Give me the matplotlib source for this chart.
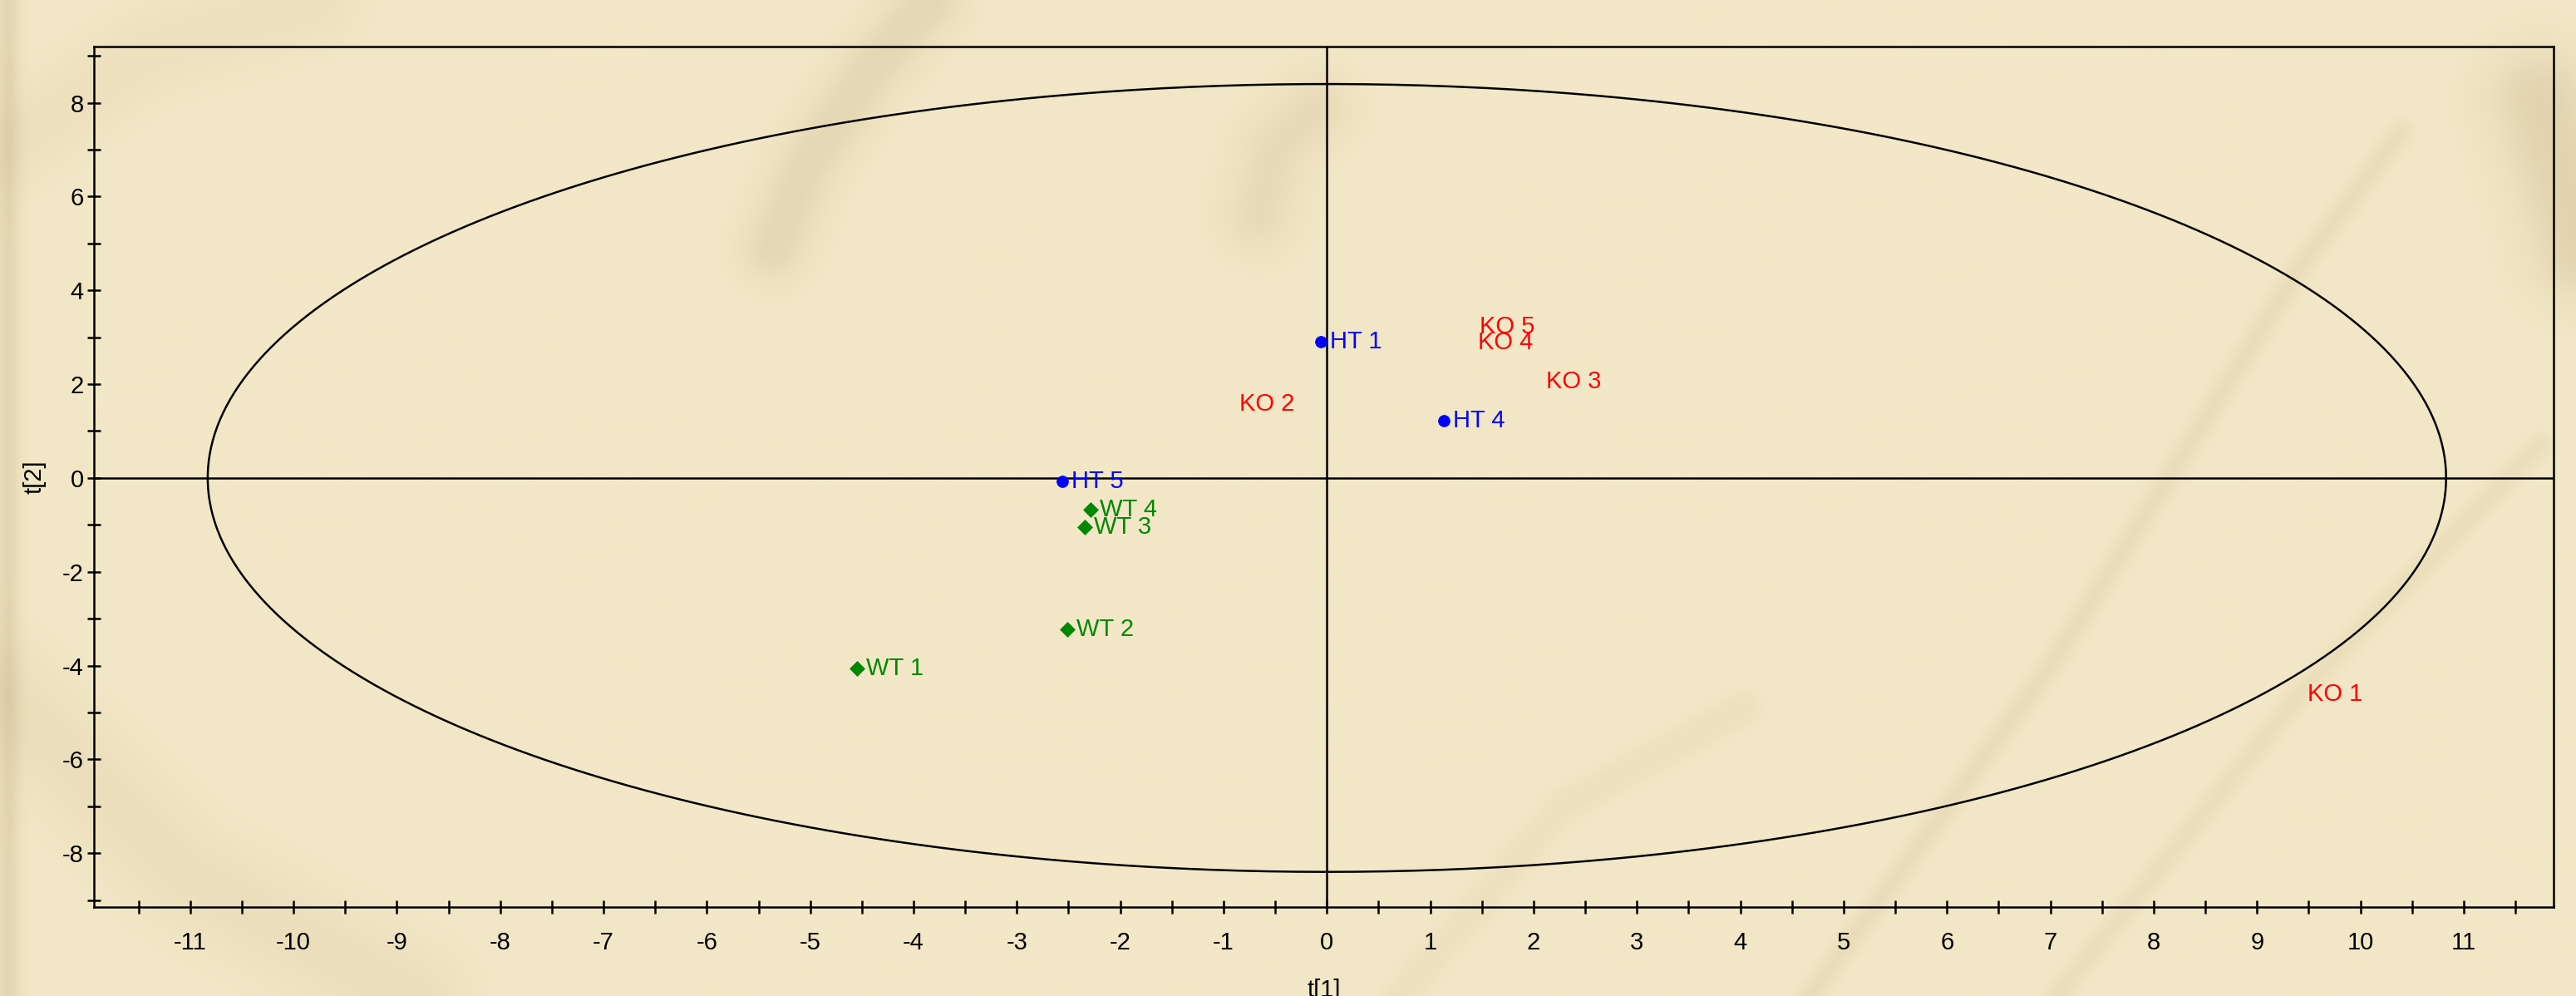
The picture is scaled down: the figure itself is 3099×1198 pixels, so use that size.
import numpy as np
import matplotlib
matplotlib.use("Agg")
import matplotlib.pyplot as plt
from matplotlib.ticker import MultipleLocator, FixedLocator

plt.rcParams['font.family'] = ['Liberation Sans', 'DejaVu Sans']

# PCA scores (t[1], t[2]) per group
ht_labels = ["HT 1", "HT 4", "HT 5"]
ht_t1 = [-0.06, 1.13, -2.56]
ht_t2 = [2.91, 1.23, -0.07]

wt_labels = ["WT 1", "WT 2", "WT 3", "WT 4"]
wt_t1 = [-4.55, -2.51, -2.34, -2.29]
wt_t2 = [-4.07, -3.23, -1.05, -0.67]

ko_labels = ["KO 1", "KO 2", "KO 3", "KO 4", "KO 5"]
ko_t1 = [9.40, -0.94, 2.03, 1.37, 1.39]
ko_t2 = [-4.62, 1.58, 2.06, 2.88, 3.23]

# Hotelling's T2 (95%) ellipse semi-axes
ellipse_a = 10.83
ellipse_b = 8.40

x_ticks = list(range(-11, 12))
y_ticks = [-8, -6, -4, -2, 0, 2, 4, 6, 8]

bg = "#F2E7C6"
fig = plt.figure(figsize=(30.99, 11.98), dpi=100, facecolor=bg)


# --- soft parchment backdrop with faint darker swirls ---
def parchment(w=775, h=300):
    yy, xx = np.mgrid[0:h, 0:w].astype(float)
    # work in a 1568 x 606 reference frame
    X = xx * 1568.0 / w
    Y = yy * 606.0 / h
    dark = np.zeros_like(X)

    def stroke(pts, width, strength):
        pts = np.asarray(pts, float)
        d = np.full_like(X, 1e9)
        for (x0, y0), (x1, y1) in zip(pts[:-1], pts[1:]):
            vx, vy = x1 - x0, y1 - y0
            t = ((X - x0) * vx + (Y - y0) * vy) / (vx * vx + vy * vy)
            t = np.clip(t, 0, 1)
            dd = np.hypot(X - (x0 + t * vx), Y - (y0 + t * vy))
            d = np.minimum(d, dd)
        return strength * np.exp(-0.5 * (d / width) ** 2)

    dark += stroke([(470, 150), (490, 100), (530, 40), (565, 0)], 14, 0.45)
    dark += stroke([(765, 130), (775, 90), (800, 65)], 16, 0.35)
    dark += stroke([(1545, 60), (1560, 110), (1570, 150)], 22, 0.55)
    dark += stroke([(1100, 606), (1250, 400), (1400, 160), (1460, 80)], 5, 0.3)
    dark += stroke([(1250, 606), (1400, 420), (1545, 270)], 5, 0.25)
    dark += stroke([(850, 606), (950, 490), (1060, 430)], 7, 0.2)
    dark += stroke([(0, 420), (110, 530), (250, 606)], 22, 0.25)
    dark += stroke([(4, 0), (4, 606)], 5, 0.5)
    dark += stroke([(0, 90), (90, 30), (190, 0)], 18, 0.2)
    dark = np.clip(dark, 0, 1)

    base = np.array([242, 231, 198]) / 255.0
    deep = np.array([212, 196, 156]) / 255.0
    return base + (deep - base) * dark[..., None]


bax = fig.add_axes([0, 0, 1, 1], zorder=-1)
bax.imshow(parchment(), extent=[0, 1, 0, 1], aspect="auto",
           interpolation="bilinear", origin="upper")
bax.axis("off")

ax = fig.add_axes([0.0365, 0.0893, 0.9548, 0.864])
ax.set_facecolor("none")

ax.set_xlim(-11.93, 11.87)
ax.set_ylim(-9.15, 9.2)

# zero lines
ax.axhline(0, color="black", lw=1.8, zorder=1)
ax.axvline(0, color="black", lw=1.8, zorder=1)

# T2 ellipse
theta = np.linspace(0, 2 * np.pi, 721)
ax.plot(ellipse_a * np.cos(theta), ellipse_b * np.sin(theta),
        color="black", lw=1.8, zorder=2)

offset = dict(textcoords="offset points", xytext=(8, 0), va="center",
              ha="left", fontsize=21)

ax.plot(ht_t1, ht_t2, "o", color="#0000FF", ms=10, mew=0.5, zorder=3)
for lab, x, y in zip(ht_labels, ht_t1, ht_t2):
    ax.annotate(lab, (x, y), color="#0000FF", **offset)

ax.plot(wt_t1, wt_t2, "D", color="#008800", ms=9.5, mew=0.5, zorder=3)
for lab, x, y in zip(wt_labels, wt_t1, wt_t2):
    ax.annotate(lab, (x, y), color="#008800", **offset)

for lab, x, y in zip(ko_labels, ko_t1, ko_t2):
    ax.annotate(lab, (x, y), color="#FF0000", **offset)

# axes frame and ticks
for s in ax.spines.values():
    s.set_linewidth(1.8)
    s.set_color("black")

ax.xaxis.set_major_locator(FixedLocator(x_ticks))
ax.xaxis.set_minor_locator(MultipleLocator(0.5))
ax.yaxis.set_major_locator(FixedLocator(y_ticks))
ax.yaxis.set_minor_locator(MultipleLocator(1))
ax.set_xticklabels([str(v) for v in x_ticks])
ax.set_yticklabels([str(v) for v in y_ticks])

ax.tick_params(axis="both", which="both", direction="inout", length=12,
               width=1.8, colors="black", labelsize=21)
ax.tick_params(axis="x", which="major", pad=15)
ax.tick_params(axis="y", which="major", pad=3)

ax.set_xlabel("t[1]", fontsize=21, va="center")
ax.set_ylabel("t[2]", fontsize=21, va="center")
ax.xaxis.set_label_coords(0.5, -0.0966)
ax.yaxis.set_label_coords(-0.0243, 0.5)

fig.savefig("out.png", dpi=100, facecolor=bg)
